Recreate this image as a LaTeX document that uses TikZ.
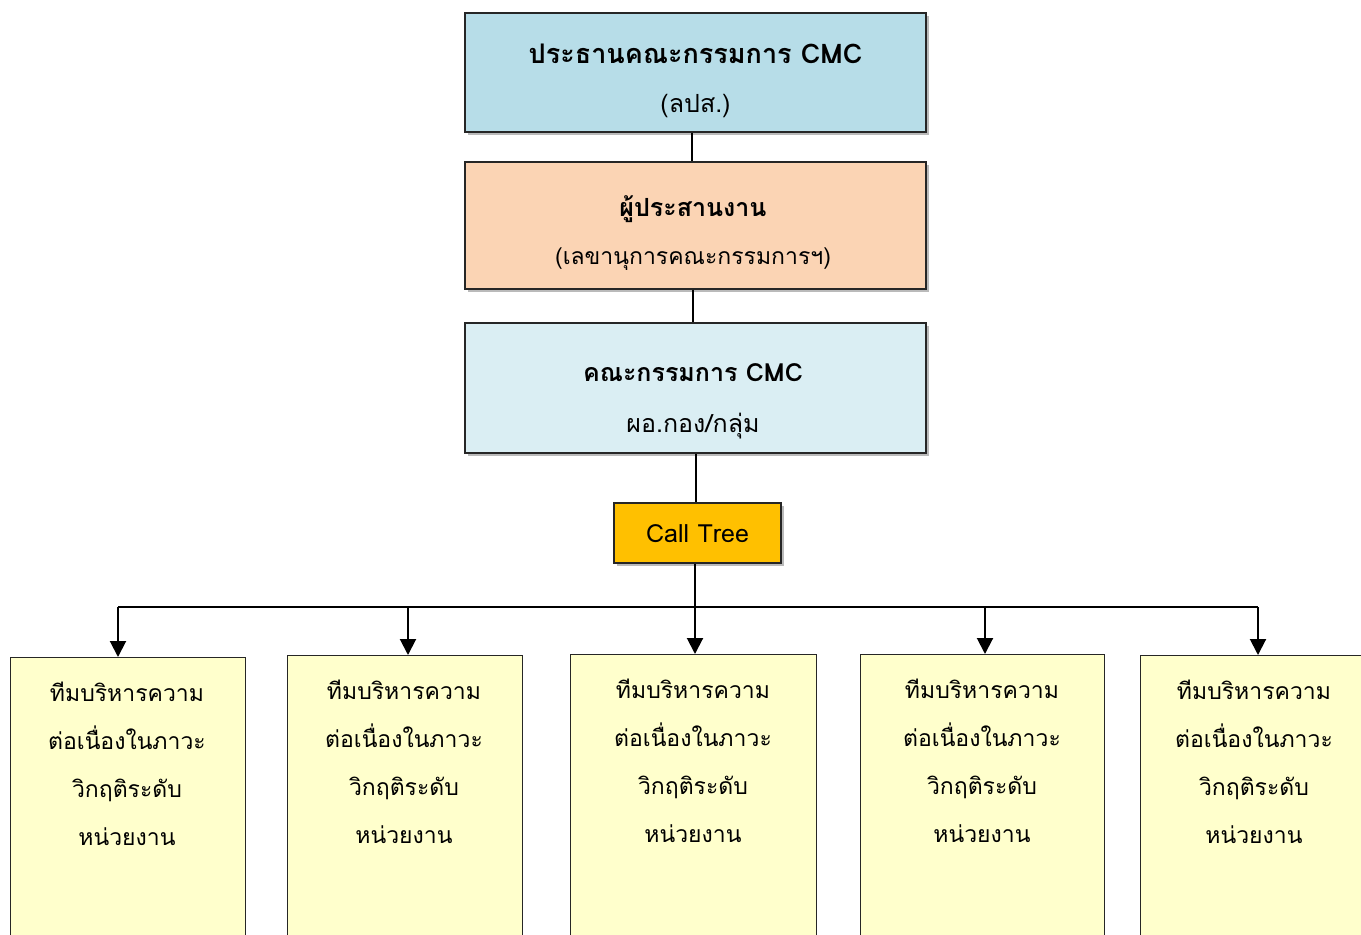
\documentclass[tikz,border=0pt]{standalone}
\usepackage{fontspec}
\setmainfont[Script=Thai]{Loma}
\usetikzlibrary{arrows.meta,shadows}
\definecolor{cblue}{HTML}{B7DDE8}
\definecolor{cpeach}{HTML}{FBD4B4}
\definecolor{clight}{HTML}{DAEEF3}
\definecolor{cgold}{HTML}{FFC000}
\definecolor{cyellow}{HTML}{FFFFCC}
\tikzset{
  box/.style={draw=black!85, line width=1.2pt, rectangle, inner sep=0pt},
  shad/.style={drop shadow={shadow xshift=3pt, shadow yshift=-3pt, opacity=0.45, fill=black!60}},
  txt/.style={anchor=base, inner sep=0pt, font=\fontsize{25}{30}\selectfont},
  btxt/.style={txt, font=\fontsize{25}{30}\selectfont\bfseries},
  stxt/.style={anchor=base, inner sep=0pt, font=\fontsize{23}{28}\selectfont},
  conn/.style={line width=2pt, black},
  arr/.style={conn, -{Triangle[width=16pt,length=16pt]}}
}
\begin{document}
\begin{tikzpicture}[x=1pt,y=-1pt]
\useasboundingbox (0,0) rectangle (1361,935);
\clip (0,0) rectangle (1361,935);
\fill[white] (0,0) rectangle (1361,935);
% top boxes
\node[box, shad, fill=cblue, minimum width=461pt, minimum height=119pt] (b1) at (695.5,72.5) {};
\node[box, shad, fill=cpeach, minimum width=461pt, minimum height=127pt] (b2) at (695.5,225.5) {};
\node[box, shad, fill=clight, minimum width=461pt, minimum height=130pt] (b3) at (695.5,388) {};
\node[box, shad, fill=cgold, minimum width=167pt, minimum height=60pt] (ct) at (697.5,533) {};
% texts
\node[btxt, font=\fontsize{27}{32}\selectfont\bfseries] (b1a) at (695.5,63) {ประธานคณะกรรมการ CMC};
\node[txt] (b1b) at (695.5,112) {(ลปส.)};
\node[btxt] (b2a) at (693,216) {ผู้ประสานงาน};
\node[txt, font=\fontsize{23}{28}\selectfont] (b2b) at (693,264) {(เลขานุการคณะกรรมการฯ)};
\node[btxt] (b3a) at (693,381) {คณะกรรมการ CMC};
\node[txt] (b3b) at (693,432) {ผอ.กอง/กลุ่ม};
\node[txt] (ctt) at (697.5,542) {Call Tree};
% bottom boxes
\node[box, fill=cyellow, anchor=north west, minimum width=235pt, minimum height=320pt] (u1) at (10,657) {};
\node[box, fill=cyellow, anchor=north west, minimum width=235pt, minimum height=320pt] (u2) at (287,655) {};
\node[box, fill=cyellow, anchor=north west, minimum width=246pt, minimum height=320pt] (u3) at (570,654) {};
\node[box, fill=cyellow, anchor=north west, minimum width=244pt, minimum height=320pt] (u4) at (860,654) {};
\node[box, fill=cyellow, anchor=north west, minimum width=240pt, minimum height=320pt] (u5) at (1140,655) {};
\foreach \n/\x/\y in {u1/127/701, u2/404/699, u3/693/698, u4/982/698, u5/1254/699}{
  \node[stxt] (\n l1) at (\x,\y) {ทีมบริหารความ};
  \node[stxt] (\n l2) at (\x,\y+48) {ต่อเนื่องในภาวะ};
  \node[stxt] (\n l3) at (\x,\y+96) {วิกฤติระดับ};
  \node[stxt] (\n l4) at (\x,\y+144) {หน่วยงาน};
}
% connectors
\draw[conn] (b1.south -| 692,0) -- (b2.north -| 692,0);
\draw[conn] (b2.south -| 693,0) -- (b3.north -| 693,0);
\draw[conn] (b3.south -| 696,0) -- (ct.north -| 696,0);
\coordinate (hl) at (118,607);
\coordinate (hr) at (1258,607);
\draw[conn] (hl) -- (hr);
\draw[arr] (ct.south -| 695,0) -- (u3.north -| 695,0);
\draw[arr] (hl) -- (u1.north -| hl);
\draw[arr] (408,607) -- (u2.north -| 408,0);
\draw[arr] (985,607) -- (u4.north -| 985,0);
\draw[arr] (hr) -- (u5.north -| hr);
\end{tikzpicture}
\end{document}
